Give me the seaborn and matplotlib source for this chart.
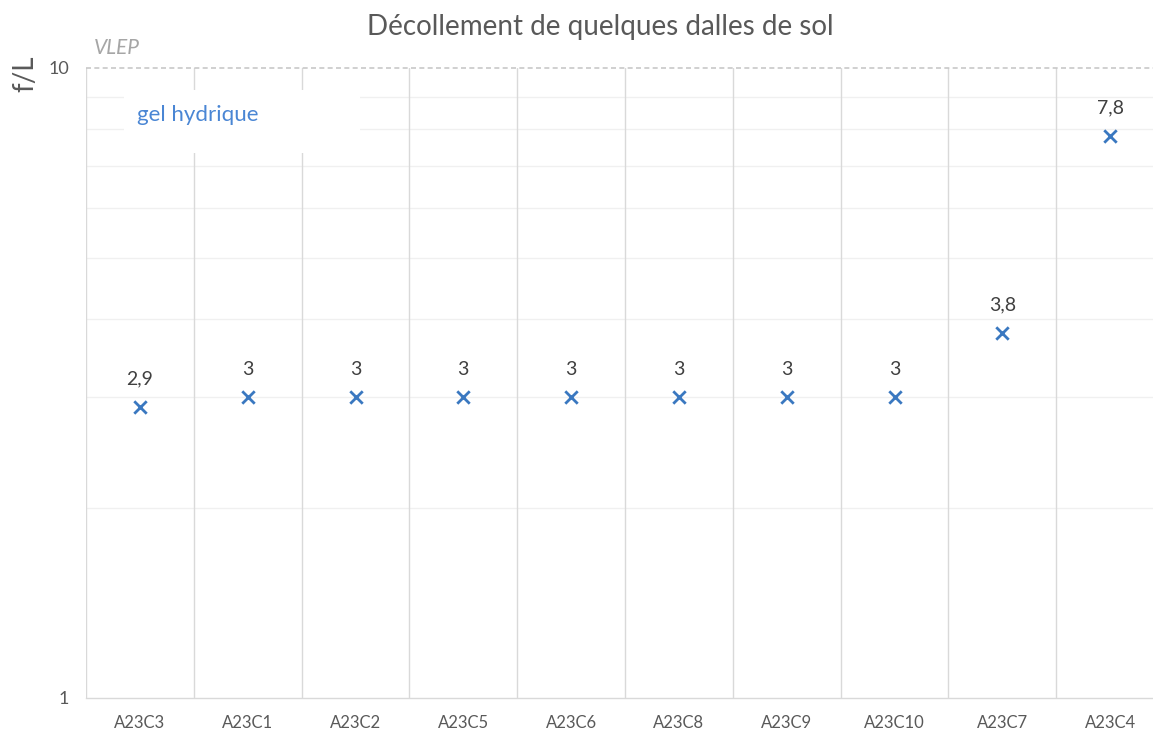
#!/usr/bin/env python3
"""Décollement de quelques dalles de sol - log-scale scatter per sample."""

import matplotlib as mpl
import matplotlib.pyplot as plt
import pandas as pd
import seaborn as sns
from matplotlib.patches import Rectangle
from matplotlib.ticker import FixedLocator, NullFormatter

samples = ["A23C3", "A23C1", "A23C2", "A23C5", "A23C6", "A23C8", "A23C9", "A23C10", "A23C7", "A23C4"]
fibres_per_litre = [2.9, 3, 3, 3, 3, 3, 3, 3, 3.8, 7.8]
series_name = "gel hydrique"
vlep = 10

BLUE = "#3a78c0"
GRID = "#d9d9d9"
TEXT = "#595959"

sns.set_theme(style="white")
mpl.rcParams["font.family"] = ["Lato", "DejaVu Sans"]

df = pd.DataFrame({"sample": samples, "fl": fibres_per_litre})

fig = plt.figure(figsize=(11.53, 7.31), dpi=100)
ax = fig.add_axes([86 / 1153, 33 / 731, 1078 / 1153, 630 / 731])

sns.scatterplot(data=df, x="sample", y="fl", ax=ax, marker="x", s=80,
                color=BLUE, linewidth=2, zorder=5, legend=False)

ax.set_yscale("log")
ax.set_ylim(1, 10)
ax.set_xlim(-0.5, len(samples) - 0.5)

# category separators
for i in range(len(samples) + 1):
    ax.axvline(i - 0.5, color=GRID, lw=1, zorder=1)
# minor horizontal grid
for v in range(2, 10):
    ax.axhline(v, color="#f0f0f0", lw=1, zorder=0)
# VLEP line
ax.axhline(vlep, color="#c8c8c8", lw=1.2, ls=(0, (3, 2)), zorder=2, clip_on=False)
ax.annotate("VLEP", (0.0074, vlep), xycoords=ax.get_yaxis_transform(),
            xytext=(0, 7), textcoords="offset points", ha="left", va="bottom",
            fontsize=15, style="italic", color="#a6a6a6", annotation_clip=False)

for spine in ["top", "right", "left"]:
    ax.spines[spine].set_visible(False)
ax.spines["bottom"].set_color(GRID)
ax.spines["bottom"].set_linewidth(1)

ax.yaxis.set_major_locator(FixedLocator([1, 10]))
ax.yaxis.set_minor_formatter(NullFormatter())
ax.set_yticklabels(["1", "10"])
ax.tick_params(axis="y", which="both", length=0, labelsize=13, labelcolor=TEXT, pad=12)
ax.tick_params(axis="x", length=0, labelsize=12, labelcolor=TEXT, pad=12)
ax.set_xlabel("")
ax.set_ylabel("")

for i, v in enumerate(fibres_per_litre):
    ax.annotate(f"{v:g}".replace(".", ","), (i, v), xytext=(0, 14),
                textcoords="offset points", ha="center", va="bottom",
                fontsize=14, color="#404040")

# legend box
ax.add_patch(Rectangle((0.035, 0.865), 0.219, 0.1, transform=ax.transAxes,
                       fc="white", ec="none", zorder=4))
ax.text(0.047, 0.925, series_name, transform=ax.transAxes, ha="left", va="center",
        fontsize=16, color="#4a86d4", zorder=6)

fig.text(25 / 1153, 1 - 55 / 731, "f/L", rotation=90, ha="center", va="top",
         fontsize=20, color=TEXT)
fig.text(600 / 1153, 1 - 27 / 731, "Décollement de quelques dalles de sol", ha="center",
         va="center", fontsize=20, color=TEXT)

fig.savefig("out.png", dpi=100, facecolor="white")
